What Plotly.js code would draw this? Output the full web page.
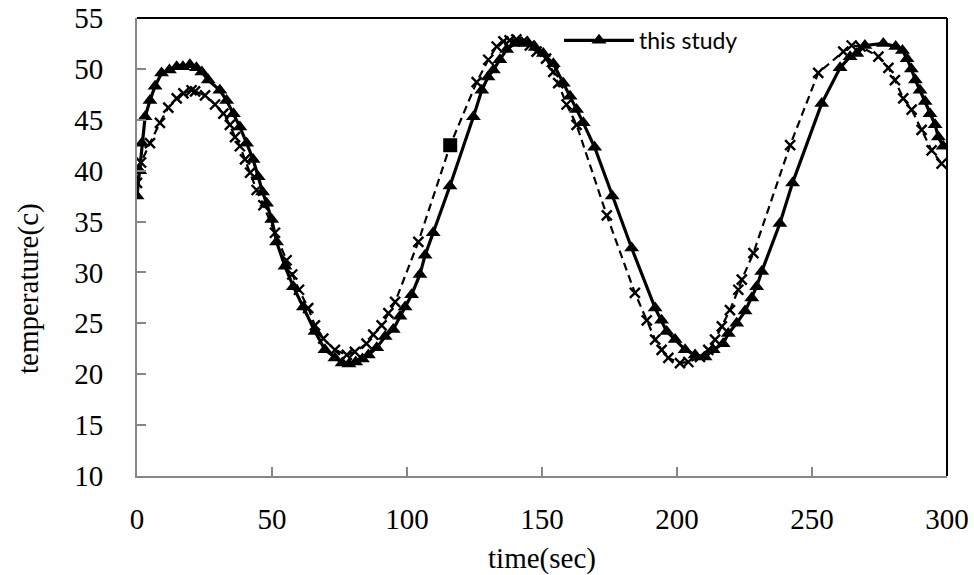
<!DOCTYPE html>
<html>
<head>
<meta charset="utf-8">
<script src="https://cdn.plot.ly/plotly-3.0.1.min.js"></script>
<style>html,body{margin:0;padding:0;background:#fff;}#chart{width:974px;height:575px;}</style>
</head>
<body>
<div id="chart"></div>
<script>
// "this study" series (solid line, triangles)
const studyTime = [0, 1, 1.8, 3, 4.8, 6.7, 9.1, 12, 14.7, 17, 19.6, 22, 24, 26.4, 30.7, 33.2, 35.7, 38.1, 40.6, 43, 44.9, 46.5, 48, 49.9, 51.7, 54.8, 57.9, 61.6, 65.9, 69.6, 73.3, 76, 78.5, 81, 83.5, 85.7, 88.8, 91.9, 94.9, 97.4, 99.3, 101.7, 104.8, 106.7, 109.7, 115.9, 124.6, 127.7, 130, 132, 134.4, 136.9, 140, 142.5, 145, 147.5, 150.5, 154.2, 157.9, 160.4, 162.8, 165.3, 169.5, 176, 183.2, 191.9, 194.3, 196.2, 199.3, 203, 206.7, 210.4, 213.4, 217.1, 219, 222.1, 225.2, 227.7, 229.5, 231.4, 238.1, 242.8, 253.6, 260.4, 264.1, 266.6, 269.6, 276.4, 281, 283.5, 285.2, 286.8, 288.3, 290, 291.9, 293.7, 295.6, 296.8, 298.6];
const studyTemp = [37.5, 40, 42.7, 45.3, 46.9, 48.3, 49.6, 49.9, 50.2, 50.2, 50.4, 50.1, 49.7, 48.9, 47.9, 46.9, 45.6, 44.3, 42.7, 41.1, 39.4, 37.9, 36.8, 35.2, 33.0, 30.6, 28.6, 26.6, 24.2, 22.4, 21.6, 21.1, 21.0, 21.2, 21.5, 21.9, 22.6, 23.7, 24.4, 25.7, 26.6, 27.8, 29.8, 31.7, 33.9, 38.5, 45.3, 47.9, 49.2, 49.9, 50.9, 51.9, 52.5, 52.6, 52.5, 52.1, 51.5, 50.5, 48.6, 47.3, 46.0, 44.7, 42.3, 37.5, 32.4, 26.5, 25.3, 24.2, 23.4, 22.4, 21.9, 21.7, 22.4, 23.0, 24.0, 25.0, 26.2, 27.5, 28.6, 30.1, 34.8, 38.8, 46.6, 50.1, 51.2, 51.5, 52.3, 52.5, 52.2, 51.8, 51.0, 50.0, 48.9, 47.9, 46.8, 45.6, 44.5, 43.3, 42.4];

// second series (dashed line, crosses)
const otherTime = [0, 1.5, 4.8, 8.5, 11.6, 14.7, 17.2, 20.2, 21.5, 25.2, 28.9, 32, 34.4, 36.3, 38.1, 40, 41.9, 44.3, 46.8, 51.1, 55.4, 57.5, 60, 63.4, 65.9, 69, 73.3, 77.7, 80.7, 85, 87.5, 90.6, 93.1, 95.6, 104.2, 116, 125.8, 130.1, 133.2, 135.7, 138, 140.5, 143, 145.5, 148, 151.5, 154.2, 156, 159.1, 162.8, 174, 184.4, 188.8, 191.9, 194.3, 196.8, 201.1, 204.2, 208.5, 211.6, 214.1, 216.6, 219.6, 222.7, 224, 228.3, 241.9, 252.3, 261.6, 264.7, 268, 274.6, 278.3, 280.7, 283.8, 286.9, 290.6, 294.3, 298];
const otherTemp = [38.8, 40.8, 42.7, 44.7, 46.2, 47.1, 47.6, 47.9, 47.8, 47.4, 46.5, 45.6, 44.5, 43.3, 42.4, 41.1, 39.8, 38.1, 36.6, 33.9, 31.2, 29.8, 28.3, 26.5, 24.8, 23.5, 22.4, 21.9, 22.2, 23.0, 23.9, 24.8, 26.0, 27.1, 33.0, 42.5, 48.7, 50.9, 52.2, 52.7, 52.8, 52.9, 52.7, 52.3, 51.7, 51.0, 49.7, 48.6, 46.5, 44.5, 35.6, 28.0, 25.3, 23.4, 22.4, 21.6, 21.1, 21.2, 21.7, 22.4, 23.4, 24.7, 26.3, 28.3, 29.3, 31.9, 42.5, 49.6, 51.7, 52.3, 52.2, 51.2, 50.1, 48.9, 47.1, 46.0, 44.0, 42.0, 40.7];

// single highlighted point (square marker)
const squareTime = [116];
const squareTemp = [42.5];

const xTicks = [0, 50, 100, 150, 200, 250, 300];
const yTicks = [10, 15, 20, 25, 30, 35, 40, 45, 50, 55];
const studyName = 'this study';
const xTitle = 'time(sec)';
const yTitle = 'temperature(c)';

const otherSizes = otherTime.map(t => squareTime.includes(t) ? 0 : 10);

const traces = [
  {
    x: otherTime, y: otherTemp, type: 'scatter', mode: 'lines+markers',
    name: 'reference', showlegend: false,
    line: {color: '#000', width: 2.2, dash: '8px,5px'},
    marker: {symbol: 'x-thin-open', size: otherSizes, opacity: 1, color: '#000', line: {color: '#000', width: 2.4}}
  },
  {
    x: squareTime, y: squareTemp, type: 'scatter', mode: 'markers',
    name: 'point', showlegend: false,
    marker: {symbol: 'square', size: 14, color: '#000', opacity: 1, line: {width: 0}}
  },
  {
    x: studyTime, y: studyTemp, type: 'scatter', mode: 'lines+markers',
    name: studyName,
    line: {color: '#000', width: 3.2},
    marker: {symbol: 'triangle-up', size: 13, color: '#000', opacity: 1}
  }
];

const serif = 'Liberation Serif, Times New Roman, serif';
const layout = {
  width: 974, height: 575,
  margin: {l: 137, r: 27, t: 18, b: 99},
  paper_bgcolor: '#fff', plot_bgcolor: '#fff',
  showlegend: true,
  legend: {x: 0.521, y: 0.998, xanchor: 'left', yanchor: 'top', bgcolor: 'rgba(0,0,0,0)',
           font: {family: 'Lato, Liberation Sans, sans-serif', size: 23, color: '#000'}, itemwidth: 70},
  xaxis: {
    range: [0, 300], tickvals: xTicks, ticktext: xTicks.map(String),
    showgrid: false, zeroline: false,
    showline: true, linecolor: '#868686', linewidth: 2,
    ticks: 'inside', ticklen: 9, tickcolor: '#868686', tickwidth: 2,
    ticklabelstandoff: 16,
    tickfont: {family: serif, size: 29, color: '#000'},
    title: {text: xTitle, font: {family: serif, size: 29, color: '#000'}, standoff: 14}
  },
  yaxis: {
    range: [10, 55], tickvals: yTicks, ticktext: yTicks.map(String),
    showgrid: false, zeroline: false,
    showline: true, linecolor: '#868686', linewidth: 2,
    ticks: 'inside', ticklen: 9, tickcolor: '#868686', tickwidth: 2,
    ticklabelstandoff: 26,
    tickfont: {family: serif, size: 29, color: '#000'}
  },
  annotations: [
    {text: yTitle, xref: 'paper', yref: 'paper', x: 0, y: 0.5, xanchor: 'center', yanchor: 'middle',
     xshift: -109, yshift: -42, textangle: -90, showarrow: false,
     font: {family: serif, size: 29, color: '#000'}}
  ],
  shapes: [
    {type: 'line', xref: 'paper', yref: 'paper', x0: 0, x1: 1, y0: 1, y1: 1, line: {color: '#000', width: 2}},
    {type: 'line', xref: 'paper', yref: 'paper', x0: 1, x1: 1, y0: 0, y1: 1, line: {color: '#000', width: 2}}
  ]
};

Plotly.newPlot('chart', traces, layout, {displayModeBar: false, staticPlot: true});
</script>
</body>
</html>
